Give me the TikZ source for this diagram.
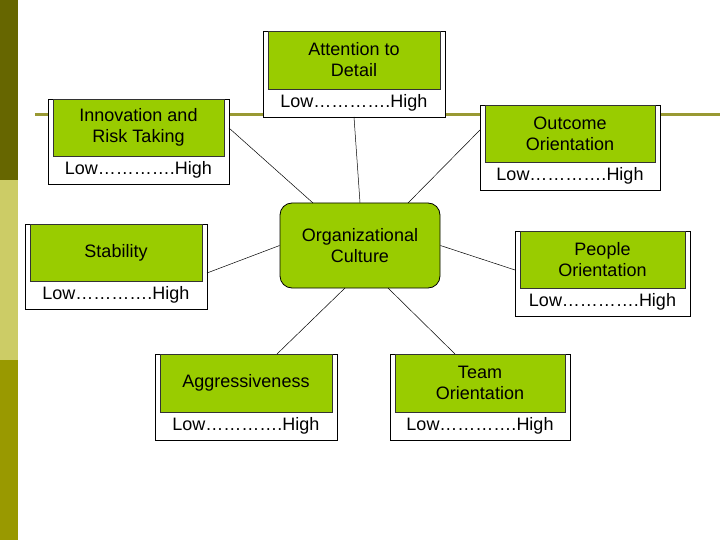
\documentclass[tikz,border=0pt]{standalone}
\usepackage{fontspec}
\setmainfont{Liberation Sans}
\begin{document}
\begin{tikzpicture}[x=1pt,y=-1pt,
  outerbox/.style={draw=black,line width=0.6pt,fill=white},
  innerbox/.style={draw=black!80,line width=0.8pt,fill=grn},
  lbl/.style={font=\fontsize{18}{21}\selectfont,align=center,inner sep=0pt},
  conn/.style={draw=black,line width=0.5pt}]
\definecolor{grn}{HTML}{99CC00}
\useasboundingbox (0,0) rectangle (720,540);
\fill[white] (0,0) rectangle (720,540);
\fill[fill={rgb,255:red,102;green,102;blue,0}] (0,0) rectangle (18,180);
\fill[fill={rgb,255:red,204;green,204;blue,102}] (0,180) rectangle (18,360);
\fill[fill={rgb,255:red,153;green,153;blue,0}] (0,360) rectangle (18,540);
\draw[line width=3pt,color={rgb,255:red,153;green,153;blue,51}] (35,115) -- (720,115);
% macro-free boxes
\newcommand{\mybox}[6]{% name, x1,y1,x2,y2,text
  \draw[outerbox] (#2,#3) rectangle (#4,#5);
  \draw[innerbox] ({#2+5},#3) rectangle ({#4-5},{#5-28});
  \node[lbl] (#1) at ({(#2+#4)/2},{(#3+#5-28)/2}) {#6};
  \node[lbl] (#1l) at ({(#2+#4)/2},{#5-14}) {Low\dots\dots\dots\dots.High};
  \coordinate (#1a) at (#2,#3); \coordinate (#1b) at (#4,#5);
}
\mybox{att}{263}{31}{445}{117}{Attention to\\Detail}
\mybox{inn}{48}{99}{229}{184}{Innovation and\\Risk Taking}
\mybox{out}{480}{105}{660}{190}{Outcome\\Orientation}
\mybox{sta}{25}{224}{207}{309}{Stability}
\mybox{peo}{515}{231}{690}{316}{People\\Orientation}
\mybox{agg}{155}{354}{337}{440}{Aggressiveness}
\mybox{tea}{390}{354}{570}{440}{Team\\Orientation}
\node[draw=black,line width=0.8pt,fill=grn,rounded corners=12pt,minimum width=160pt,minimum height=85pt,lbl] (c) at (360,245.5) {Organizational\\Culture};
\draw[conn] (354,117) -- (c.north);
\draw[conn] (229,128) -- (313,203);
\draw[conn] (480,130) -- (408,203);
\draw[conn] (207,273) -- (c.west);
\draw[conn] (515,270) -- (c.east);
\draw[conn] (277,354) -- (345,288);
\draw[conn] (455,354) -- (388,288);
\end{tikzpicture}
\end{document}
